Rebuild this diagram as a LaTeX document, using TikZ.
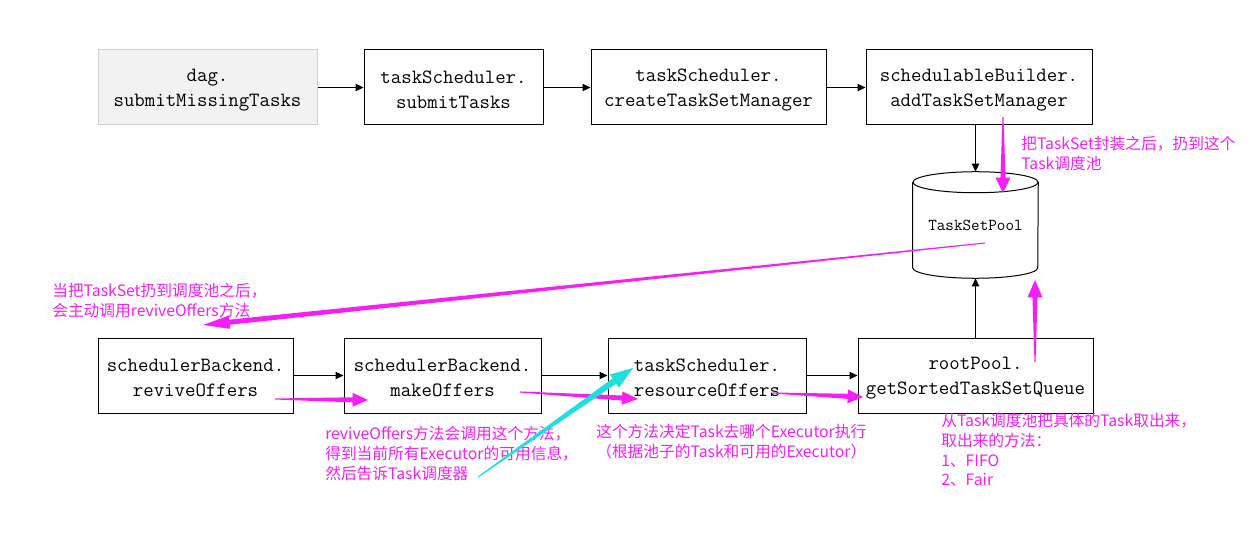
\documentclass[tikz,border=0pt]{standalone}
\usepackage{fontspec}
\newfontfamily\cjk{Noto Sans CJK SC}
\usetikzlibrary{arrows.meta,calc}
\definecolor{mag}{RGB}{245,30,245}
\definecolor{cyn}{RGB}{30,222,222}
\definecolor{dagfill}{RGB}{242,242,242}
\definecolor{dagline}{RGB}{210,210,210}
% tapered annotation arrow: #1 colour, #2 tail, #3 tip, #4 shaft half width, #5 head half width, #6 head length
\newcommand\taper[6]{%
  \path ($(#3)!#6!(#2)$) coordinate (tpH);
  \fill[#1] ($(#2)!0.4pt!90:(#3)$) -- ($(tpH)!#4!90:(#3)$) -- ($(tpH)!#5!90:(#3)$) -- (#3)
    -- ($(tpH)!#5!-90:(#3)$) -- ($(tpH)!#4!-90:(#3)$) -- ($(#2)!0.4pt!-90:(#3)$) -- cycle;}
\begin{document}
\begin{tikzpicture}[x=0.75pt,y=0.75pt,
  box/.style={draw, line width=0.75pt, minimum height=56.25pt, align=center, inner sep=0pt,
    font=\ttfamily\fontsize{15.2}{18.75}\selectfont},
  link/.style={-{Triangle[length=6pt,width=5.5pt]}, line width=0.75pt},
  note/.style={anchor=north west, inner sep=0pt, align=left, text=mag,
    font=\cjk\fontsize{11.8}{14.8}\selectfont}]
\useasboundingbox[fill=white] (0,0) rectangle (1254,-549);

% top row
\node[box, fill=dagfill, draw=dagline, minimum width=164.25pt] (dag) at (207.5,-87.5) {\strut dag.\\submitMissingTasks};
\node[box, minimum width=134.25pt] (st) at (453.5,-87.5) {\strut taskScheduler.\\submitTasks};
\node[box, minimum width=176.25pt] (ct) at (708.5,-87.5) {\strut taskScheduler.\\createTaskSetManager};
\node[box, minimum width=169.5pt] (sb) at (979,-87.5) {\strut schedulableBuilder.\\addTaskSetManager};

% bottom row
\node[box, minimum width=146.25pt] (rv) at (195.5,-375.5) {\strut schedulerBackend.\\reviveOffers};
\node[box, minimum width=147.75pt] (mo) at (442.5,-375.5) {\strut schedulerBackend.\\makeOffers};
\node[box, minimum width=148.5pt] (ro) at (707,-375.5) {\strut taskScheduler.\\resourceOffers};
\node[box, minimum width=176.25pt] (gs) at (975.5,-375.5) {\strut rootPool.\\getSortedTaskSetQueue};

% pool (cylinder)
\node[minimum width=93.75pt, minimum height=79.5pt, inner sep=0pt,
  font=\ttfamily\fontsize{12.5}{14}\selectfont] (pool) at (975.5,-225) {TaskSetPool};
\draw[line width=0.75pt] ($(pool.north)+(0,-10.5)$) ellipse [x radius=46.875pt, y radius=7.875pt];
\draw[line width=0.75pt] ($(pool.north west)+(0,-10.5)$) -- ($(pool.south west)+(0,10.5)$)
  arc[start angle=180, end angle=360, x radius=46.875pt, y radius=7.875pt]
  -- ($(pool.north east)+(0,-10.5)$);

% black connectors
\draw[link] (dag) -- (st);
\draw[link] (st) -- (ct);
\draw[link] (ct) -- (sb);
\draw[link] (pool.north |- sb.south) -- (pool.north);
\draw[link] (rv) -- (mo);
\draw[link] (mo) -- (ro);
\draw[link] (ro) -- (gs);
\draw[link] (pool.south |- gs.north) -- (pool.south);

% annotation texts
\node[note] (n1) at (1021,-136) {把TaskSet封装之后，扔到这个\\Task调度池};
\node[note] (n2) at (52,-283) {当把TaskSet扔到调度池之后，\\会主动调用reviveOffers方法};
\node[note] (n3) at (325,-426) {reviveOffers方法会调用这个方法，\\得到当前所有Executor的可用信息，\\然后告诉Task调度器};
\node[note] (n4) at (596,-424) {这个方法决定Task去哪个Executor执行\\（根据池子的Task和可用的Executor）};
\node[note] (n5) at (941,-413) {从Task调度池把具体的Task取出来，\\取出来的方法：\\1、FIFO\\2、Fair};

% annotation arrow ends
\coordinate (a1s) at (1003,-117);  \coordinate (a1e) at (1003,-193);
\coordinate (a2s) at (985,-243);   \coordinate (a2e) at (203,-325);
\coordinate (a3s) at (275,-399);   \coordinate (a3e) at (368,-400);
\coordinate (a4s) at (520,-392);   \coordinate (a4e) at (638,-399);
\coordinate (a5s) at (773,-393);   \coordinate (a5e) at (863,-397);
\coordinate (a6s) at (1035,-362);  \coordinate (a6e) at (1035,-280);
\coordinate (c1s) at (478,-477);   \coordinate (c1e) at (633,-368);

\taper{mag}{a1s}{a1e}{1.9pt}{5.6pt}{11.5pt}
\taper{mag}{a2s}{a2e}{1.9pt}{5pt}{20pt}
\taper{mag}{a3s}{a3e}{1.9pt}{5.2pt}{11.5pt}
\taper{mag}{a4s}{a4e}{1.9pt}{5pt}{12pt}
\taper{mag}{a5s}{a5e}{1.9pt}{5.2pt}{11.5pt}
\taper{mag}{a6s}{a6e}{1.9pt}{5.6pt}{13pt}
\taper{cyn}{c1s}{c1e}{2.4pt}{6pt}{17pt}
\end{tikzpicture}
\end{document}
